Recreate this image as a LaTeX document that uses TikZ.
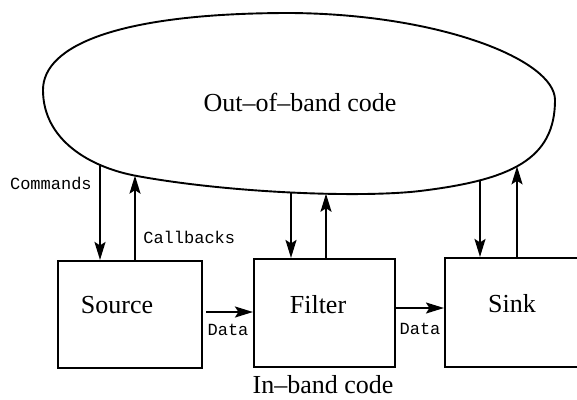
\documentclass[tikz,border=0pt]{standalone}
\usepackage{fontspec}
\setmainfont{Liberation Serif}
\setmonofont{Liberation Mono}
\usetikzlibrary{arrows.meta,intersections}
\begin{document}
\begin{tikzpicture}[x=1pt,y=-1pt,
  line width=2pt,
  box/.style={draw,line width=2.1pt,inner sep=0pt},
  big/.style={font=\fontsize{26}{30}\selectfont},
  mono/.style={font=\ttfamily\fontsize{17}{20}\selectfont},
  arr/.style={-{Stealth[length=18pt,width=11pt,inset=3.5pt]}}]
\clip (0,0) rectangle (577,399);
\draw[name path=blob, line width=1.9pt]
  (290,13) .. controls (440,14) and (555,60) .. (555,100)
  .. controls (555,160) and (510,180) .. (420,191)
  .. controls (360,198) and (230,193) .. (137,176)
  .. controls (90,167.5) and (43,140) .. (43,90)
  .. controls (43,45) and (120,13) .. cycle;
\node[big] (oob) at (300,102) {Out–of–band code};

\node[box,minimum width=144pt,minimum height=107pt] (src) at (130,314.5) {};
\node[box,minimum width=141pt,minimum height=108pt] (flt) at (324.5,313) {};
\node[box,minimum width=155pt,minimum height=109pt] (snk) at (522.5,312.5) {};
\node[big] (srcT) at (117,305) {Source};
\node[big] (fltT) at (318,305) {Filter};
\node[big] (snkT) at (512,304) {Sink};
\node[big] (ibc) at (323,385) {In–band code};

\foreach \n/\x in {c1/100,c2/135,f1/291,f2/326,s1/480,s2/517}{
  \path[name path=v\n] (\x,120) -- (\x,250);
  \path[name intersections={of=blob and v\n, by=\n}];
}
\draw[arr] (c1) -- (c1 |- src.north);
\draw[arr] (c2 |- src.north) -- (c2);
\draw[arr] (f1) -- (f1 |- flt.north);
\draw[arr] (f2 |- flt.north) -- (f2);
\draw[arr] (s1) -- (s1 |- snk.north);
\draw[arr] (s2 |- snk.north) -- (s2);

\draw[arr] ([xshift=3pt]src.east |- 0,312) -- (flt.west |- 0,312);
\draw[arr] (flt.east |- 0,308) -- (snk.west |- 0,308);

\node[mono,anchor=east] (cmd) at (96,183) {Commands};
\node[mono,anchor=west] (cb) at (139,237) {Callbacks};
\node[mono] (d1) at (228,330) {Data};
\node[mono] (d2) at (420,329) {Data};
\end{tikzpicture}
\end{document}
